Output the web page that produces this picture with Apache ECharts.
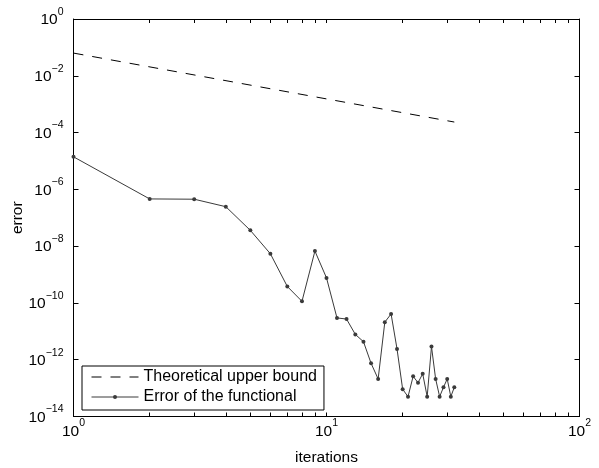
<!DOCTYPE html>
<html>
<head>
<meta charset="utf-8">
<script src="https://cdn.jsdelivr.net/npm/echarts@6/dist/echarts.min.js"></script>
<style>
html,body{margin:0;padding:0;background:#fff;}
#main{width:599px;height:468px;}
</style>
</head>
<body>
<div id="main"></div>
<script>
// values
var iterations = [1,2,3,4,5,6,7,8,9,10,11,12,13,14,15,16,17,18,19,20,21,22,23,24,25,26,27,28,29,30,31,32];
var errorValues = [1.4e-5, 4.6e-7, 4.5e-7, 2.45e-7, 3.6e-8, 5.4e-9, 3.8e-10, 1.14e-10, 6.7e-9, 7.6e-10,
	2.97e-11, 2.7e-11, 7.8e-12, 4.3e-12, 7.5e-13, 2.1e-13, 2.1e-11, 4.1e-11, 2.4e-12, 9.1e-14,
	5.0e-14, 2.6e-13, 1.55e-13, 3.2e-13, 5.0e-14, 2.9e-12, 2.1e-13, 5.0e-14, 1.07e-13, 2.1e-13,
	5.0e-14, 1.07e-13];
var boundIterations = [1, 32];
var boundValues = [0.063, 2.35e-4];
var xLabelTicks = [1, 10, 100];
var xTickValues = [1,2,3,4,5,6,7,8,9,10,20,30,40,50,60,70,80,90,100];
var yTickValues = [1e-14, 1e-12, 1e-10, 1e-8, 1e-6, 1e-4, 1e-2, 1];

var FONT = '"Liberation Sans", Arial, Helvetica, sans-serif';

function pairs(xs, ys){
	var out = [];
	for(var i = 0;i < xs.length;i ++){
		out.push([xs[i], ys[i]]);
	}
	return out;
}

function powLabel(v){
	var e = Math.round(Math.log(v)/Math.LN10);
	return '{b|10}{s|' + (e < 0 ? '\u2212' + (-e) : e) + '}';
}

// both pieces get the same total height, padding moves the exponent up
var labelRich = {
	b:{fontSize:15.5, fontFamily:FONT, color:'#000', lineHeight:16, padding:[6,0,4,0], verticalAlign:'middle'},
	s:{fontSize:10.5, fontFamily:FONT, color:'#000', lineHeight:10, padding:[1,0,15,0], verticalAlign:'middle'}
};

var lineColor = {lineStyle:{color:'#000', width:1}};

function xAxisCfg(pos, withLabels){
	return {
		type:'log', logBase:10, min:1, max:100, position:pos,
		axisLine:lineColor,
		axisTick:{inside:true, length:4, lineStyle:{color:'#000'}, customValues:xTickValues},
		axisLabel:{show:withLabels, customValues:xLabelTicks, formatter:powLabel, rich:labelRich, margin:6},
		splitLine:{show:false},
		name:withLabels ? 'iterations' : '',
		nameLocation:'middle', nameGap:33, nameMoveOverlap:false,
		nameTextStyle:{fontSize:15.5, fontFamily:FONT, color:'#000'}
	};
}

function yAxisCfg(pos, withLabels){
	return {
		type:'log', logBase:10, min:1e-14, max:1, position:pos,
		axisLine:lineColor,
		axisTick:{inside:true, length:5, lineStyle:{color:'#000'}, customValues:yTickValues},
		axisLabel:{show:withLabels, customValues:yTickValues, formatter:powLabel, rich:labelRich, margin:10},
		splitLine:{show:false},
		name:withLabels ? 'error' : '',
		nameLocation:'middle', nameGap:48, nameMoveOverlap:false,
		nameTextStyle:{fontSize:15.5, fontFamily:FONT, color:'#000'}
	};
}

var chart = echarts.init(document.getElementById('main'));
chart.setOption({
	animation:false,
	backgroundColor:'#fff',
	grid:{left:73.5, right:19.5, top:19, bottom:51.5, outerBoundsMode:'none', containLabel:false},
	xAxis:[xAxisCfg('bottom', true), xAxisCfg('top', false)],
	yAxis:[yAxisCfg('left', true), yAxisCfg('right', false)],
	legend:{
		orient:'vertical', left:82, top:366,
		itemWidth:47, itemHeight:5, itemGap:2,
		padding:[2,7,4,9],
		borderColor:'#000', borderWidth:1, backgroundColor:'#fff',
		textStyle:{fontSize:16, fontFamily:FONT, color:'#000', lineHeight:18},
		data:[
			{name:'Theoretical upper bound', itemStyle:{opacity:0}, lineStyle:{width:1}},
			{name:'Error of the functional', lineStyle:{width:1}}
		]
	},
	series:[
		{
			name:'Theoretical upper bound',
			type:'line',
			silent:true,
			symbol:'none',
			lineStyle:{color:'#000', width:1, type:[10,9]},
			itemStyle:{color:'#000'},
			data:pairs(boundIterations, boundValues)
		},
		{
			name:'Error of the functional',
			type:'line',
			silent:true,
			symbol:'circle',
			symbolSize:4,
			showAllSymbol:true,
			lineStyle:{color:'#3a3a3a', width:1},
			itemStyle:{color:'#3a3a3a'},
			data:pairs(iterations, errorValues)
		}
	]
});
</script>
</body>
</html>
